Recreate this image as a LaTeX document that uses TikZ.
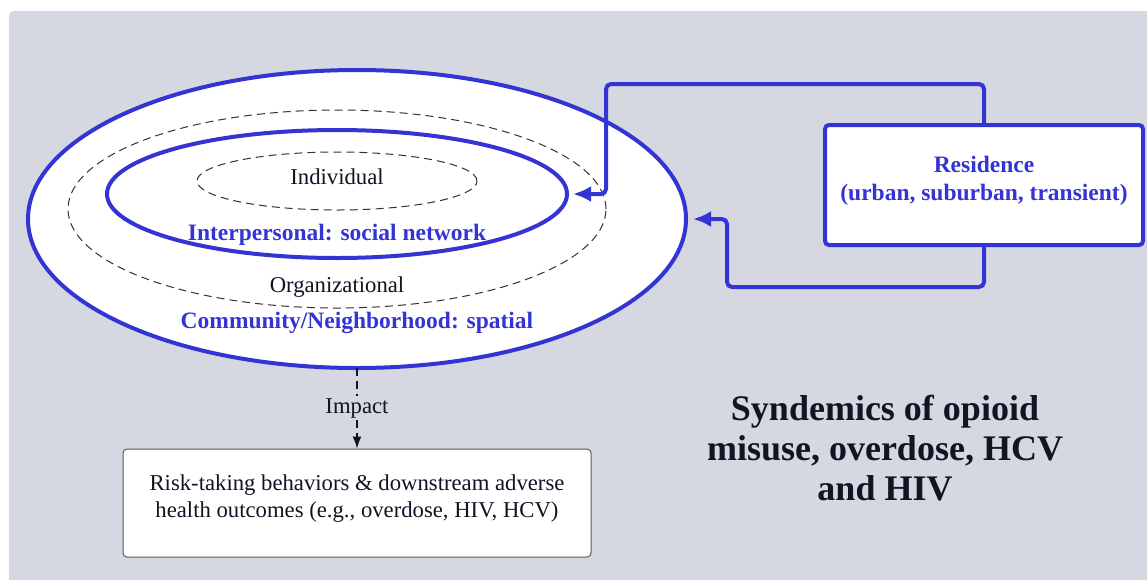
\documentclass[tikz,border=0pt]{standalone}
\usepackage{fontspec}
\setmainfont{Liberation Serif}
\usetikzlibrary{arrows.meta,shapes.geometric}
\definecolor{bgc}{RGB}{213,216,224}
\definecolor{blu}{RGB}{52,52,212}
\definecolor{ink}{RGB}{17,20,35}
\definecolor{dash}{RGB}{50,50,55}
\begin{document}
\begin{tikzpicture}[x=1pt,y=-1pt,
  ring/.style={ellipse, inner sep=0pt, outer sep=0pt},
  bluering/.style={ring, draw=blu, line width=4pt},
  dashring/.style={ring, draw=dash, line width=1pt, dash pattern=on 8pt off 5pt},
  lbl/.style={font=\fontsize{22.7}{27}\selectfont, text=ink},
  bluelbl/.style={font=\fontsize{23.5}{28}\selectfont\bfseries, text=blu},
  conn/.style={draw=blu, line width=4pt, rounded corners=5pt, -{Latex[length=18pt 0 0, width=16pt 0 0]}},
  box/.style={rectangle, rounded corners=4pt, fill=white}
]
\useasboundingbox (0,0) rectangle (1147,579);
\fill[white] (0,0) rectangle (1147,579);
\fill[bgc, rounded corners=5pt] (9,11) rectangle (1170,600);

% ellipses
\node[bluering, fill=white, minimum width=658pt, minimum height=298pt] (outer) at (357,219) {};
\node[dashring, minimum width=538pt, minimum height=198pt] (org) at (337,209) {};
\node[bluering, minimum width=460pt, minimum height=128pt] (inter) at (337,194) {};
\node[dashring, minimum width=280pt, minimum height=58pt] (indiv) at (337,181) {};

\node[lbl] (tindiv) at (337,177) {Individual};
\node[bluelbl] (tinter) at (337,235) {Interpersonal: social network};
\node[lbl] (torg) at (337,287) {Organizational};
\node[bluelbl] (tcomm) at (357,323) {Community/Neighborhood: spatial};

% residence
\node[box, draw=blu, line width=4pt, minimum width=318pt, minimum height=120pt] (res) at (984,185) {};
\node[bluelbl, align=center] (tres) at (984,181) {Residence\\(urban, suburban, transient)};

\draw[conn, shorten >=6pt] (res.north) |- (606,84) |- (inter.east);
\draw[conn, shorten >=7pt] (res.south) |- (727,287) |- (outer.east);

% outcome
\node[box, draw={rgb,255:red,85;green,88;blue,95}, line width=1pt, minimum width=468pt, minimum height=108pt] (out) at (357,503) {};
\node[lbl, align=center] (tout) at (357,498.5) {Risk-taking behaviors \& downstream adverse\\health outcomes (e.g., overdose, HIV, HCV)};

\draw[ink, line width=1.3pt, dash pattern=on 8pt off 5pt, -{Latex[length=12pt,width=9pt]}] (outer.south) -- node[lbl, fill=bgc, inner sep=2pt] (timp) {Impact} (out.north);

% title
\node[font=\fontsize{36}{40}\selectfont\bfseries, text=ink, align=center] (title) at (885,448) {Syndemics of opioid\\misuse, overdose, HCV\\and HIV};
\end{tikzpicture}
\end{document}
